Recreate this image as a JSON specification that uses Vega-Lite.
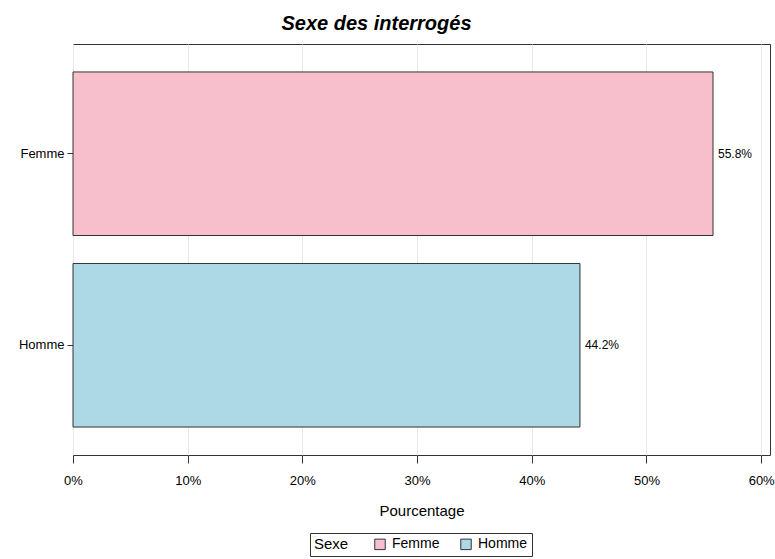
{
  "$schema": "https://vega.github.io/schema/vega-lite/v6.json",
  "width": 697,
  "height": 411,
  "autosize": {"type": "none"},
  "padding": {"left": 73, "top": 44, "right": 5, "bottom": 104},
  "background": "white",
  "title": {
    "text": "Sexe des interrogés",
    "font": "Liberation Sans",
    "fontSize": 20,
    "fontWeight": "bold",
    "fontStyle": "italic",
    "color": "#000",
    "anchor": "middle",
    "offset": 10,
    "dx": -45
  },
  "data": {
    "values": [
      {"Sexe": "Femme", "Pourcentage": 0.558},
      {"Sexe": "Homme", "Pourcentage": 0.442}
    ]
  },
  "config": {
    "view": {"stroke": "#333", "strokeWidth": 1},
    "font": "Liberation Sans",
    "axis": {
      "domain": false,
      "tickColor": "#333",
      "labelColor": "#000",
      "titleColor": "#000",
      "labelFont": "Liberation Sans",
      "titleFont": "Liberation Sans",
      "labelFontSize": 13,
      "titleFontSize": 15,
      "titleFontWeight": "normal"
    }
  },
  "encoding": {
    "y": {
      "field": "Sexe",
      "type": "nominal",
      "scale": {"paddingInner": 0.146, "paddingOuter": 0.146},
      "axis": {"title": null, "grid": false, "tickSize": 6, "labelPadding": 3}
    },
    "x": {
      "field": "Pourcentage",
      "type": "quantitative",
      "scale": {"domain": [0, 0.6077], "nice": false, "zero": true},
      "axis": {
        "title": "Pourcentage",
        "format": ".0%",
        "values": [0, 0.1, 0.2, 0.3, 0.4, 0.5, 0.6],
        "labelFlush": false,
        "labelOverlap": false,
        "grid": true,
        "gridColor": "#e8e8e8",
        "tickSize": 8,
        "labelPadding": 11,
        "titlePadding": 16
      }
    }
  },
  "layer": [
    {
      "mark": {"type": "bar", "stroke": "#333", "strokeWidth": 1},
      "encoding": {
        "color": {
          "field": "Sexe",
          "type": "nominal",
          "scale": {"domain": ["Femme", "Homme"], "range": ["#F7BFCC", "#ADD8E6"]},
          "legend": {
            "title": "Sexe",
            "orient": "none",
            "legendX": 237,
            "legendY": 489,
            "direction": "horizontal",
            "titleOrient": "left",
            "strokeColor": "#333",
            "padding": 4,
            "symbolType": "square",
            "symbolSize": 110,
            "symbolStrokeColor": "#333",
            "symbolStrokeWidth": 1,
            "labelOffset": 5,
            "labelFontSize": 14,
            "titleFontSize": 15,
            "titleFontWeight": "normal",
            "titlePadding": 24,
            "columnPadding": 18,
            "labelColor": "#000",
            "titleColor": "#000"
          }
        }
      }
    },
    {
      "mark": {"type": "text", "align": "left", "dx": 5, "fontSize": 12, "color": "#000"},
      "encoding": {
        "text": {"field": "Pourcentage", "type": "quantitative", "format": ".1%"}
      }
    }
  ]
}
